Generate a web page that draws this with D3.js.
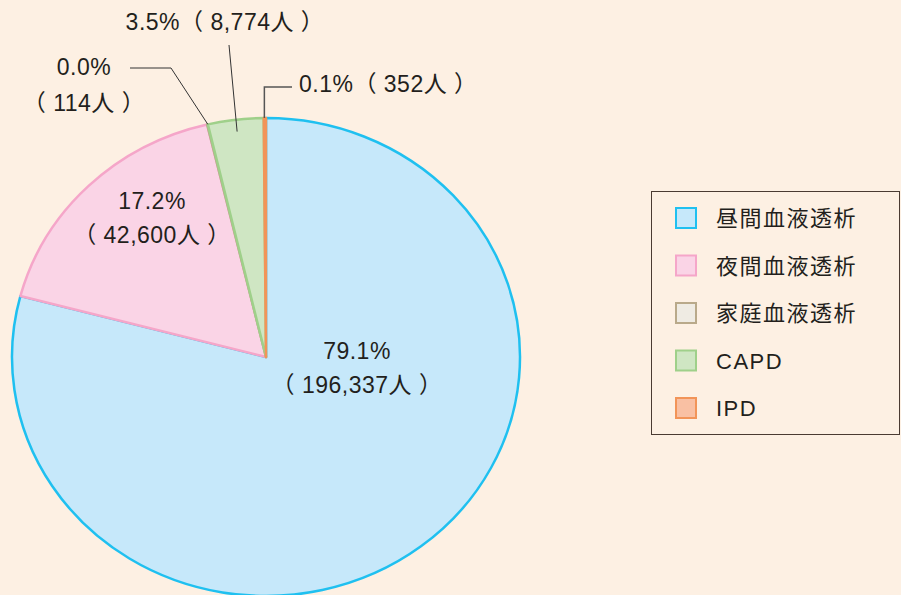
<!DOCTYPE html>
<html>
<head>
<meta charset="utf-8">
<script src="https://cdn.jsdelivr.net/npm/d3@7"></script>
<style>
  body { margin: 0; background: #fdf0e3; }
  svg { display: block; }
  text { font-family: "Liberation Sans", Arial, "Noto Sans CJK JP", sans-serif; fill: #231f1c; }
</style>
</head>
<body>
<div id="chart"></div>
<script>
// data
var categories = ["昼間血液透析", "夜間血液透析", "家庭血液透析", "CAPD", "IPD"];
var patients = [196337, 42600, 114, 8774, 352];
var percentLabels = ["79.1%", "17.2%", "0.0%", "3.5%", "0.1%"];
var fills = ["#c6e8fa", "#fad4e6", "#efebe3", "#cfe6c3", "#f9c0a3"];
var strokes = ["#1fc0f0", "#f5a6c9", "#b9a98a", "#9fd08a", "#f29458"];

var width = 901, height = 595;
var cx = 266, cy = 357, rx = 254, ry = 239;
var fontSize = 23;

var svg = d3.select("#chart").append("svg")
    .attr("width", width)
    .attr("height", height);

svg.append("rect").attr("width", width).attr("height", height).attr("fill", "#fdf0e3");

var pie = d3.pie().sort(null).value(function(d) { return d; });
var arcs = pie(patients);

var arc = d3.arc().innerRadius(0).outerRadius(rx);

// the pie is a bit squashed, so scale the group vertically
var g = svg.append("g")
    .attr("transform", "translate(" + cx + "," + cy + ") scale(1," + (ry / rx) + ")");

g.selectAll("path")
    .data(arcs)
    .enter()
    .append("path")
    .attr("d", arc)
    .attr("fill", function(d, i) { return fills[i]; })
    .attr("stroke", function(d, i) { return strokes[i]; })
    .attr("stroke-width", 2.5)
    .attr("stroke-linejoin", "round")
    .attr("vector-effect", "non-scaling-stroke");

// point on the ellipse edge for an angle
function edge(angle, k) {
    k = k || 1;
    return [cx + rx * k * Math.sin(angle), cy - ry * k * Math.cos(angle)];
}

function fmt(n) { return d3.format(",")(n); }
function count(i) { return "（ " + fmt(patients[i]) + "人 ）"; }

function label(x, y, txt, anchor) {
    return svg.append("text").attr("x", x).attr("y", y)
        .attr("text-anchor", anchor || "middle")
        .attr("font-size", fontSize)
        .style("letter-spacing", "0.5px")
        .text(txt);
}

// labels inside the big slices
label(357, 359, percentLabels[0]);
label(357, 393, count(0));
label(152, 209, percentLabels[1]);
label(152, 243, count(1));

// 家庭血液透析 label
label(84, 75, percentLabels[2]);
label(84, 111, count(2));
var p2 = edge(arcs[2].endAngle);
svg.append("polyline")
    .attr("points", [[130, 68], [171, 68], p2].join(" "))
    .attr("fill", "none").attr("stroke", "#333").attr("stroke-width", 1);

// CAPD label
label(225, 30, percentLabels[3] + count(3));
var p3 = edge((arcs[3].startAngle + arcs[3].endAngle) / 2, 0.95);
svg.append("line")
    .attr("x1", 229).attr("y1", 45).attr("x2", p3[0]).attr("y2", p3[1])
    .attr("stroke", "#333").attr("stroke-width", 1);

// IPD label
label(299, 92, percentLabels[4] + count(4), "start");
var p4 = edge((arcs[4].startAngle + arcs[4].endAngle) / 2);
svg.append("polyline")
    .attr("points", [[292, 87], [p4[0] - 0.5, 87], [p4[0] - 0.5, p4[1]]].join(" "))
    .attr("fill", "none").attr("stroke", "#555").attr("stroke-width", 1.5);

// legend
var legend = svg.append("g");
legend.append("rect")
    .attr("x", 651.5).attr("y", 191.5).attr("width", 248).attr("height", 243)
    .attr("fill", "none").attr("stroke", "#4a3b32").attr("stroke-width", 1);

var rowY = d3.scalePoint().domain(categories).range([218, 408]);

var items = legend.selectAll("g.item")
    .data(categories)
    .enter()
    .append("g")
    .attr("class", "item")
    .attr("transform", function(d) { return "translate(0," + rowY(d) + ")"; });

items.append("rect")
    .attr("x", 676).attr("y", -10).attr("width", 20).attr("height", 20)
    .attr("fill", function(d, i) { return fills[i]; })
    .attr("stroke", function(d, i) { return strokes[i]; })
    .attr("stroke-width", 2);

items.append("text")
    .attr("x", 716).attr("y", 8)
    .attr("font-size", 22)
    .style("letter-spacing", "1.5px")
    .text(function(d) { return d; });
</script>
</body>
</html>
